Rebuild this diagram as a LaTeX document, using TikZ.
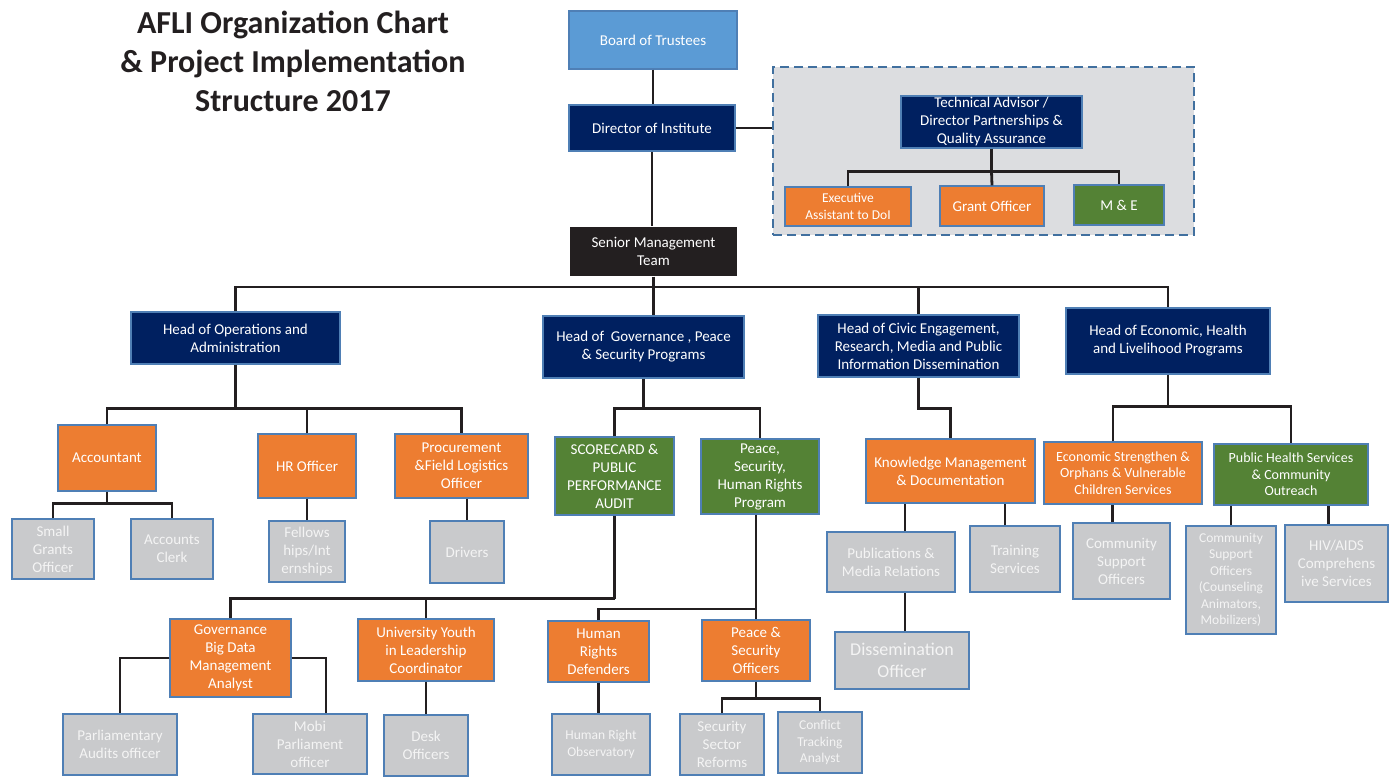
\documentclass[tikz,border=0pt]{standalone}
\usepackage{fontspec}
\setmainfont{Carlito}
\usepackage{tikz}

\definecolor{navy}{HTML}{002060}
\definecolor{skyblue}{HTML}{5B9BD5}
\definecolor{orangefill}{HTML}{ED7D31}
\definecolor{greenfill}{HTML}{548235}
\definecolor{greyfill}{HTML}{C9CACC}
\definecolor{greytext}{HTML}{F4F4F4}
\definecolor{boxline}{HTML}{4F7FB5}
\definecolor{groupfill}{HTML}{DCDDE0}
\definecolor{groupline}{HTML}{41709F}
\definecolor{linkcol}{HTML}{231F20}

\tikzset{
  box/.style={draw=boxline, line width=1.3pt, inner sep=1pt, align=center,
    font=\fontsize{15}{18}\selectfont},
  head/.style={box, fill=navy, text=white},
  task/.style={box, fill=orangefill, text=white},
  prog/.style={box, fill=greenfill, text=white},
  staff/.style={box, fill=greyfill, text=greytext},
  small/.style={font=\fontsize{13.5}{16.5}\selectfont},
  link/.style={draw=linkcol, line width=2.8pt},
}

\begin{document}
\begin{tikzpicture}[x=1pt, y=-1pt]
  \useasboundingbox (0,0) rectangle (1390,778);

  % Title
  \node[align=center, font=\bfseries\fontsize{32}{39}\selectfont, text=linkcol]
    (title) at (293,61) {AFLI Organization Chart\\ \& Project Implementation\\ Structure 2017};

  % Top of the chart
  \node[box, fill=skyblue, text=white, minimum width=168, minimum height=58] (board) at (653,40) {Board of Trustees};
  \node[head, minimum width=166, minimum height=46] (dir) at (652,128) {Director of Institute};
  \node[box, draw=none, fill=linkcol, text=white, minimum width=167, minimum height=49] (smt) at (653.5,251.5) {Senior Management\\ Team};

  % Partnerships group
  \node[draw=groupline, fill=groupfill, line width=2.5pt, dash pattern=on 9pt off 5pt,
    minimum width=421, minimum height=168] (grp) at (983.5,151) {};
  \node[head, minimum width=181, minimum height=52] (ta) at (991.5,122) {Technical Advisor /\\ Director Partnerships \&\\ Quality Assurance};
  \node[task, small, minimum width=126, minimum height=39] (exec) at (848,206.5) {Executive\\ Assistant to DoI};
  \node[task, minimum width=104, minimum height=40] (grant) at (992,206) {Grant Officer};
  \node[prog, minimum width=90, minimum height=40] (me) at (1119,205) {M \& E};

  % Heads
  \node[head, minimum width=209, minimum height=52] (ops) at (235.5,338) {Head of Operations and\\ Administration};
  \node[head, minimum width=201, minimum height=62] (gov) at (643.5,347) {Head of\ \ Governance , Peace\\ \& Security Programs};
  \node[head, minimum width=201, minimum height=62] (civic) at (918.5,346) {Head of Civic Engagement,\\ Research, Media and Public\\ Information Dissemination};
  \node[head, minimum width=204, minimum height=66] (econ) at (1168,341) {Head of Economic, Health\\ and Livelihood Programs};

  % Operations
  \node[task, minimum width=98, minimum height=66] (acct) at (107,458) {Accountant};
  \node[task, minimum width=98, minimum height=64] (hr) at (307,466) {HR Officer};
  \node[task, minimum width=133, minimum height=64] (proc) at (461.5,466) {Procurement\\ \&Field Logistics\\ Officer};
  \node[staff, minimum width=82, minimum height=60] (smallg) at (53,549) {Small\\ Grants\\ Officer};
  \node[staff, minimum width=82, minimum height=60] (clerk) at (172,549) {Accounts\\ Clerk};
  \node[staff, minimum width=76, minimum height=61] (fellows) at (307,551.5) {Fellows\\ hips/Int\\ ernships};
  \node[staff, minimum width=74, minimum height=62] (drivers) at (467,552) {Drivers};

  % Governance, peace and security
  \node[prog, minimum width=119, minimum height=78] (score) at (614.5,476) {SCORECARD \&\\ PUBLIC\\ PERFORMANCE\\ AUDIT};
  \node[prog, minimum width=118, minimum height=75] (psh) at (760,476.5) {Peace,\\ Security,\\ Human Rights\\ Program};
  \node[task, minimum width=121, minimum height=78] (gbd) at (230.5,658) {Governance\\ Big Data\\ Management\\ Analyst};
  \node[task, minimum width=136, minimum height=62] (uyl) at (426,650) {University Youth\\ in Leadership\\ Coordinator};
  \node[staff, minimum width=114, minimum height=61] (parl) at (120,744.5) {Parliamentary\\ Audits officer};
  \node[staff, minimum width=114, minimum height=60] (mobi) at (310,744) {Mobi\\ Parliament\\ officer};
  \node[staff, minimum width=84, minimum height=61] (desk) at (426,745.5) {Desk\\ Officers};
  \node[task, minimum width=101, minimum height=61] (hrd) at (598.5,651.5) {Human\\ Rights\\ Defenders};
  \node[task, minimum width=108, minimum height=61] (pso) at (756,650.5) {Peace \&\\ Security\\ Officers};
  \node[staff, small, minimum width=98, minimum height=61] (hro) at (601,744.5) {Human Right\\ Observatory};
  \node[staff, minimum width=84, minimum height=61] (ssr) at (722,744.5) {Security\\ Sector\\ Reforms};
  \node[staff, small, minimum width=84, minimum height=61] (cta) at (820,742.5) {Conflict\\ Tracking\\ Analyst};

  % Civic engagement
  \node[task, minimum width=169, minimum height=64] (kmd) at (950.5,471) {Knowledge Management\\ \& Documentation};
  \node[staff, minimum width=128, minimum height=60] (pub) at (891,562) {Publications \&\\ Media Relations};
  \node[staff, minimum width=90, minimum height=66] (train) at (1015,559) {Training\\ Services};
  \node[staff, font=\fontsize{18}{22}\selectfont, minimum width=134, minimum height=57] (diss) at (902,660.5) {Dissemination\\ Officer};

  % Economic, health and livelihood
  \node[task, font=\fontsize{14}{16.5}\selectfont, minimum width=158, minimum height=62] (esv) at (1123,473) {Economic Strengthen \&\\ Orphans \& Vulnerable\\ Children Services};
  \node[prog, font=\fontsize{14}{16.5}\selectfont, minimum width=154, minimum height=61] (phs) at (1291,474.5) {Public Health Services\\ \& Community\\ Outreach};
  \node[staff, minimum width=97, minimum height=76] (cso) at (1121.5,561) {Community\\ Support\\ Officers};
  \node[staff, small, minimum width=90, minimum height=108] (csc) at (1231,580) {Community\\ Support\\ Officers\\ (Counseling\\ Animators,\\ Mobilizers)};
  \node[staff, minimum width=103, minimum height=77] (hiv) at (1336.5,563.5) {HIV/AIDS\\ Comprehens\\ ive Services};

  % Connect the nodes
  \coordinate (topbus) at (653,287);
  \draw[link] (board.south) -- (board.south |- dir.north);
  \draw[link] (dir.south) -- (dir.south |- smt.north);
  \draw[link] (dir.east) -- (dir.east -| grp.west);
  \draw[link] (ta.south) -- ++(0,23) coordinate (tabus);
  \draw[link] (exec.north) |- (tabus) -| (me.north);
  \draw[link] (tabus) -- (grant.north);

  \draw[link] (smt.south) -- (smt.south |- gov.north);
  \draw[link] (ops.north) |- (topbus) -| (econ.north);
  \draw[link] (civic.north) -- (civic.north |- topbus);

  \draw[link] (ops.south) -- ++(0,44) coordinate (opsbus);
  \draw[link] (acct.north) |- (opsbus) -| (proc.north);
  \draw[link] (hr.north) -- (hr.north |- opsbus);
  \draw[link] (acct.south) -- ++(0,12) coordinate (acctbus);
  \draw[link] (smallg.north) |- (acctbus) -| (clerk.north);
  \draw[link] (hr.south) -- (fellows.north);
  \draw[link] (proc.south -| drivers.north) -- (drivers.north);

  \draw[link] (gov.south) -- ++(0,30) coordinate (govbus);
  \draw[link] (score.north) |- (govbus) -| (psh.north);
  \draw[link] (score.south) -- ++(0,83) coordinate (scbus);
  \draw[link] (gbd.north) |- (scbus);
  \draw[link] (uyl.north) -- (uyl.north |- scbus);
  \draw[link] (gbd.west) -| (parl.north);
  \draw[link] (gbd.east) -| ([xshift=16]mobi.north);
  \draw[link] (uyl.south) -- (desk.north);

  \coordinate (pshbus) at (756,609);
  \draw[link] (psh.south -| pso.north) -- (pso.north);
  \draw[link] (hrd.north) |- (pshbus);
  \draw[link] (hrd.south) -- (hrd.south |- hro.north);
  \draw[link] (pso.south) -- ++(0,17) coordinate (psobus);
  \draw[link] (ssr.north) |- (psobus) -| (cta.north);

  \draw[link] (civic.south) -- ++(0,31) -| (kmd.north);
  \draw[link] ([xshift=14]pub.north) -- ([xshift=14]pub.north |- kmd.south);
  \draw[link] ([xshift=-10]train.north) -- ([xshift=-10]train.north |- kmd.south);
  \draw[link] ([xshift=3]diss.north) -- ([xshift=3]diss.north |- pub.south);

  \draw[link] (econ.south) -- ++(0,32) coordinate (econbus);
  \draw[link] ([xshift=-10]esv.north) |- (econbus) -| (phs.north);
  \draw[link] ([xshift=-9]cso.north) -- ([xshift=-9]cso.north |- esv.south);
  \draw[link] (csc.north) -- (csc.north |- phs.south);
  \draw[link] ([xshift=-8]hiv.north) -- ([xshift=-8]hiv.north |- phs.south);
\end{tikzpicture}
\end{document}
